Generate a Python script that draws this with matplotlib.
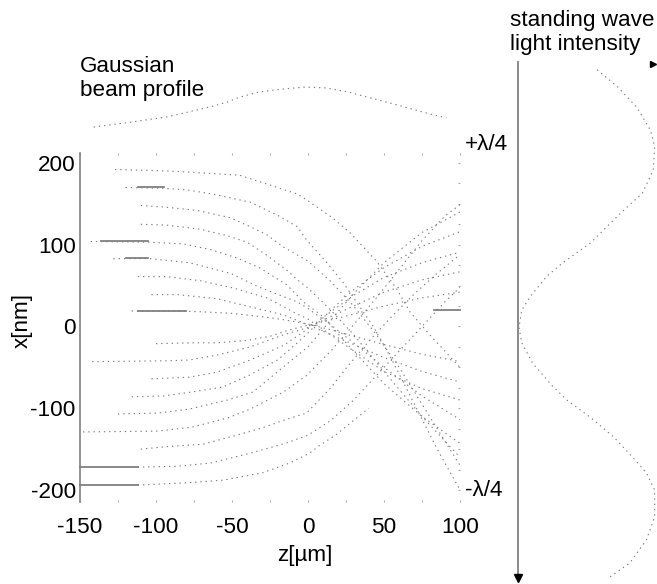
import numpy as np
import matplotlib
matplotlib.use('Agg')
import matplotlib.pyplot as plt
from matplotlib.ticker import MultipleLocator

plt.rcParams['font.family'] = ['Liberation Sans', 'DejaVu Sans']
plt.rcParams['axes.unicode_minus'] = False

## Data #############################################################
# atom trajectories starting above the axis: z [um], x [nm]
traj_up_z = [
    [-116, -90, -70, -50, -30, -15, 0, 15, 30, 50, 75, 100],
    [-103, -86, -60, -38, -16, 0, 15, 30, 50, 75, 100],
    [-112, -93, -71, -49, -27, -10, 0, 15, 30, 50, 75, 100],
    [-128, -104, -78, -51, -32, -7, 0, 15, 30, 50, 75, 100],
    [-143, -104, -82, -64, -47, -32, -14, -3, 10, 25, 50, 75, 100],
    [-110, -93, -71, -53, -40, -27, -14, -7, 0, 15, 30, 50, 75, 100],
    [-110, -94, -73, -51, -38, -27, -16, 0, 15, 30, 45, 60, 75, 90, 100],
    [-120, -95, -79, -60, -38, -20, -7, -1, 12, 23, 43, 55, 70, 85, 100],
    [-127, -89, -45, -25, -7, -1, 6, 16, 28, 45, 58, 67, 80, 100],
]
traj_up_x = [
    [19, 19, 18, 16, 12, 8, 3, -4, -12, -22, -34, -43],
    [39, 39, 34, 24, 14, 2, -10, -22, -38, -55, -68],
    [61, 61, 56, 47, 35, 18, 9, -10, -30, -55, -76, -90],
    [83, 83, 78, 65, 48, 30, 22, 2, -20, -50, -85, -114],
    [104, 103, 101, 94, 84, 72, 51, 30, 12, -20, -70, -110, -143],
    [125, 124, 119, 111, 103, 87, 69, 57, 47, 20, -10, -55, -110, -160],
    [148, 146, 142, 133, 122, 112, 97, 80, 55, 25, -10, -50, -95, -140, -170],
    [170, 169, 167, 161, 152, 136, 122, 106, 79, 54, 0, -40, -95, -150, -200],
    [192, 190, 185, 173, 162, 155, 146, 133, 114, 80, 47, 18, -10, -50],
]
# atom trajectories starting below the axis
traj_lo_z = [
    [-100, -76, -60, -40, -25, -12, -1, 15, 30, 50, 75, 100],
    [-142, -93, -78, -60, -38, -16, -1, 15, 30, 50, 75, 100],
    [-103, -78, -60, -38, -16, -1, 15, 30, 50, 75, 100],
    [-116, -95, -76, -56, -38, -20, -7, 0, 15, 30, 50, 75, 100],
    [-125, -99, -78, -53, -36, -12, 0, 15, 30, 50, 75, 100],
    [-148, -99, -76, -53, -38, -16, -1, 15, 30, 45, 60, 75, 90, 100],
    [-110, -93, -69, -47, -30, -15, -1, 15, 26, 40, 55, 70, 85, 100],
    [-112, -86, -64, -38, -15, 0, 15, 30, 45, 60, 75, 90, 100],
    [-112, -78, -56, -30, -12, 1, 8, 18, 30, 40],
]
traj_lo_x = [
    [-21, -20, -20, -17, -12, -4, 1, 8, 15, 25, 35, 42],
    [-43, -42, -41, -35, -25, -10, -2, 12, 25, 42, 57, 67],
    [-64, -62, -56, -41, -23, -4, 18, 38, 60, 78, 91],
    [-86, -85, -80, -74, -59, -41, -20, -8, 20, 45, 72, 98, 116],
    [-107, -106, -101, -90, -80, -43, -25, 8, 40, 78, 115, 140],
    [-129, -128, -123, -112, -101, -80, -60, -30, 2, 35, 70, 105, 135, 149],
    [-150, -147, -144, -133, -124, -114, -106, -75, -49, -18, 12, 40, 65, 88],
    [-172, -171, -167, -155, -143, -133, -115, -90, -60, -30, 0, 30, 48],
    [-194, -191, -188, -179, -167, -155, -145, -133, -115, -100],
]
# darker solid pieces of some trajectories
seg_z0 = [-112, -136, -120, -112, -150, -150, 83]
seg_z1 = [-95, -105, -105, -80, -112, -112, 100]
seg_x = [170, 104, 84, 19, -172, -194, 20]

# gaussian beam profile (relative intensity) along z
beam_z = [-141, -117, -93, -84, -73, -62, -53, -45, -32, -18, -2, 12, 26, 36, 47, 59, 80, 91]
beam_I = [0.09, 0.20, 0.32, 0.39, 0.48, 0.57, 0.66, 0.77, 0.89, 0.95, 1.00,
          0.98, 0.89, 0.80, 0.70, 0.59, 0.39, 0.30]

# standing wave light intensity (relative) across x [nm]
wave_x = [314, 293, 268, 240, 220, 191, 163, 140, 102, 78, 61, 36, 20, -1, -20,
          -45, -72, -90, -111, -135, -160, -179, -200, -233, -261, -289, -308]
wave_I = [0.57, 0.72, 0.86, 0.96, 0.99, 0.98, 0.90, 0.75, 0.52, 0.32, 0.20, 0.08,
          0.02, 0.00, 0.02, 0.10, 0.24, 0.35, 0.52, 0.69, 0.83, 0.93, 0.99, 0.99,
          0.93, 0.81, 0.65]
## Data over ########################################################

W, H = 657, 584
fs = 16.2
dotstyle = (0, (1.2, 3.5))
gray = '#7a7a7a'

fig = plt.figure(figsize=(W / 100, H / 100), dpi=100)

# main trajectory plot
ax = fig.add_axes([80 / W, 82 / H, 380 / W, 349 / H])
for zz, xx in zip(traj_up_z + traj_lo_z, traj_up_x + traj_lo_x):
    ax.plot(zz, xx, linestyle=dotstyle, color=gray, lw=0.8)
for z0, z1, xs in zip(seg_z0, seg_z1, seg_x):
    ax.plot([z0, z1], [xs, xs], '-', color='#808080', lw=1.3, clip_on=False)
ax.set_xlim(-150, 100)
ax.set_ylim(-214.7, 212.2)
for s in ['top', 'right', 'bottom']:
    ax.spines[s].set_visible(False)
ax.spines['left'].set_color('#808080')
ax.spines['left'].set_linewidth(1.2)
ax.set_xticks([-150, -100, -50, 0, 50, 100])
ax.set_yticks([-200, -100, 0, 100, 200])
ax.xaxis.set_minor_locator(MultipleLocator(25))
ax.yaxis.set_minor_locator(MultipleLocator(25))
ax.tick_params(which='both', direction='in', length=1.5, width=0.8, color='#aaaaaa',
               top=True, bottom=True, right=True, left=False, labelsize=fs)
ax.tick_params(axis='x', pad=11)
ax.tick_params(axis='y', pad=3)
ax.set_xlabel('z[µm]', fontsize=fs, va='center')
ax.xaxis.set_label_coords(0.592, -0.152)
ax.set_ylabel('x[nm]', fontsize=fs, va='center')
ax.yaxis.set_label_coords((22 - 80) / 380, (502 - 320) / 349)
ax.text(103, 222, '+λ/4', fontsize=fs, ha='left', va='center', clip_on=False)
ax.text(103, -201, '-λ/4', fontsize=fs, ha='left', va='center', clip_on=False)

# gaussian beam profile on top
ax0 = fig.add_axes([80 / W, (H - 135) / H, 380 / W, 55 / H])
ax0.plot(beam_z, beam_I, linestyle=dotstyle, color=gray, lw=0.8)
ax0.set_xlim(-150, 100)
ax0.set_ylim(-0.09, 1.16)
ax0.axis('off')
fig.text(80 / W, 1 - 56 / H, 'Gaussian\nbeam profile', fontsize=fs,
         ha='left', va='top', linespacing=1.2)

# standing wave on the right
ax2 = fig.add_axes([519 / W, 6 / H, 137 / W, 516 / H])
ax2.plot(wave_I, wave_x, linestyle=dotstyle, color=gray, lw=0.8)
ax2.plot([-0.007, -0.007], [323.5, -303], color='#808080', lw=1.3, clip_on=False)
ax2.plot(-0.007, -307.6, marker='v', color='black', ms=6, clip_on=False)
ax2.plot(0.978, 321, marker='>', color='black', ms=5, clip_on=False)
ax2.set_xlim(0, 1)
ax2.set_ylim(-307.6, 323.5)
ax2.axis('off')
fig.text(510 / W, 1 - 10 / H, 'standing wave\nlight intensity', fontsize=fs,
         ha='left', va='top', linespacing=1.2)

plt.savefig('out.png', dpi=100)
